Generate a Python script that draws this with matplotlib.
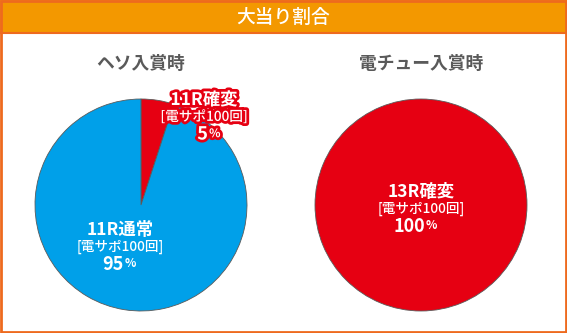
import matplotlib
matplotlib.use("Agg")
import matplotlib.pyplot as plt
import matplotlib.patheffects as pe
from matplotlib.patches import Rectangle

plt.rcParams['font.family'] = ['Noto Sans CJK JP', 'DejaVu Sans']

W, H = 567, 333

title = '大当り割合'
pie_titles = ['ヘソ入賞時', '電チュー入賞時']
heso_labels = ['11R確変', '11R通常']
heso_values = [5, 95]
dench_labels = ['13R確変']
dench_values = [100]
sapo_text = '[電サポ100回]'

RED = '#E60012'
BLUE = '#00A0E9'
ORANGE = '#F39800'
BORDER = '#EE6A1E'

fig = plt.figure(figsize=(W / 100, H / 100), dpi=100)
ax = fig.add_axes([0, 0, 1, 1])


def y(py):
    # pixel rows counted from the top
    return H - py


# frame and header band
ax.add_patch(Rectangle((0, y(34)), W, 34, facecolor=ORANGE, edgecolor='none'))
ax.add_patch(Rectangle((1, 1), W - 2, H - 2, facecolor='none', edgecolor=BORDER, linewidth=2))
ax.plot([0, W], [y(33), y(33)], color=BORDER, linewidth=1.5)
ax.text(W / 2, y(17), title, color='white', fontsize=13.5, fontweight='medium',
        ha='center', va='center')

centers = [(141, 205), (421, 205)]
radius = 106
edge = dict(edgecolor='#5a5a5a', linewidth=0.6)

for (cx, cy), t in zip(centers, pie_titles):
    ax.text(cx, y(64), t, color='#5a5a5a', fontsize=12.8, fontweight='bold',
            ha='center', va='center')

ax.pie(heso_values, colors=[RED, BLUE], startangle=90, counterclock=False,
       center=(centers[0][0], y(centers[0][1])), radius=radius, wedgeprops=edge)
ax.pie(dench_values, colors=[RED], startangle=90, counterclock=False,
       center=(centers[1][0], y(centers[1][1])), radius=radius, wedgeprops=edge)


def label_block(x, ytop, name, value, stroke=None):
    effects = [pe.withStroke(linewidth=4, foreground=stroke)] if stroke else None
    ax.text(x, y(ytop), name, color='white', fontsize=12.5, fontweight='bold',
            ha='center', va='center', path_effects=effects)
    ax.text(x, y(ytop + 17), sapo_text, color='white', fontsize=9.8, fontweight='medium',
            ha='center', va='center', path_effects=effects)
    num = ax.text(x + 4, y(ytop + 34), str(value), color='white', fontsize=13,
                  fontweight='bold', ha='right', va='center', path_effects=effects)
    ax.annotate('%', xycoords=num, xy=(1, 0), xytext=(0.8, 2.4), textcoords='offset points',
                color='white', fontsize=8.5, fontweight='bold', ha='left', va='bottom',
                path_effects=effects)


label_block(204, 100, heso_labels[0], heso_values[0], stroke=RED)
label_block(120, 230, heso_labels[1], heso_values[1])
label_block(421, 192, dench_labels[0], dench_values[0])

ax.set_xlim(0, W)
ax.set_ylim(0, H)
ax.set_aspect('auto')
ax.axis('off')

fig.savefig('out.png', dpi=100)
